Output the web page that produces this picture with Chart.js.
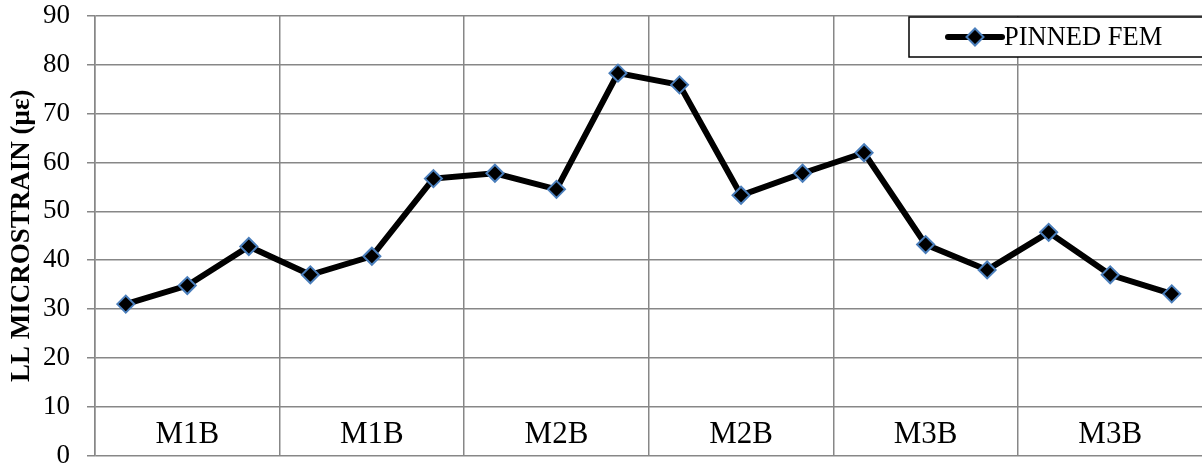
<!DOCTYPE html>
<html>
<head>
<meta charset="utf-8">
<script src="https://cdn.jsdelivr.net/npm/chart.js@4"></script>
<style>
    body { margin: 0; overflow: hidden; background: #fff; }
    #wrap { width: 1213px; height: 466px; position: relative; }
</style>
</head>
<body>
<div id="wrap"><canvas id="graficoStrain"></canvas></div>
<script>
const categorias = ['', 'M1B', '', '', 'M1B', '', '', 'M2B', '', '', 'M2B', '', '', 'M3B', '', '', 'M3B', ''];
const pinnedFem = [31.0, 34.8, 42.8, 37.0, 40.8, 56.7, 57.8, 54.5, 78.3, 75.9, 53.3, 57.8, 62.0, 43.2, 38.0, 45.7, 37.0, 33.1];
const yTicks = [0, 10, 20, 30, 40, 50, 60, 70, 80, 90];

const corGrade = '#878787';
const fonte = "'Liberation Serif', 'Times New Roman', serif";

// legend box drawn over the top right of the plot, like the original
const legendaPlugin = {
    id: 'legendaCaixa',
    afterDraw(chart) {
        const ctx = chart.ctx;
        const ds = chart.data.datasets[0];
        ctx.save();
        ctx.fillStyle = '#fff';
        ctx.fillRect(909, 17, 310, 40);
        ctx.strokeStyle = '#000';
        ctx.lineWidth = 1.5;
        ctx.strokeRect(909, 17, 310, 40);

        ctx.strokeStyle = ds.borderColor;
        ctx.lineWidth = ds.borderWidth;
        ctx.lineCap = 'round';
        ctx.beginPath();
        ctx.moveTo(948, 37);
        ctx.lineTo(1002, 37);
        ctx.stroke();

        ctx.fillStyle = ds.pointBackgroundColor;
        ctx.strokeStyle = ds.pointBorderColor;
        ctx.lineWidth = ds.pointBorderWidth;
        ctx.beginPath();
        ctx.moveTo(975, 28.5); ctx.lineTo(983.5, 37); ctx.lineTo(975, 45.5); ctx.lineTo(966.5, 37); ctx.closePath();
        ctx.fill();
        ctx.stroke();

        ctx.fillStyle = '#000';
        ctx.font = '26.5px ' + fonte;
        ctx.textBaseline = 'middle';
        ctx.textAlign = 'left';
        ctx.fillText(ds.label, 1004, 38);
        ctx.restore();
    }
};

function desenharGrafico() {
    const ctx = document.getElementById('graficoStrain').getContext('2d');

    new Chart(ctx, {
        type: 'line',
        data: {
            labels: categorias,
            datasets: [{
                label: 'PINNED FEM',
                data: pinnedFem,
                borderColor: '#000',
                borderWidth: 6,
                tension: 0,
                pointStyle: 'rectRot',
                pointRadius: 8.5,
                pointBackgroundColor: '#000',
                pointBorderColor: '#4a7ebb',
                pointBorderWidth: 2
            }]
        },
        options: {
            responsive: true,
            maintainAspectRatio: false,
            animation: false,
            layout: { padding: { top: 16, right: 0, bottom: 9, left: 0 } },
            plugins: {
                legend: { display: false },
                tooltip: { enabled: false }
            },
            scales: {
                x: {
                    type: 'category',
                    offset: true,
                    border: { display: false },
                    grid: {
                        offset: true,
                        drawTicks: false,
                        lineWidth: 1.5,
                        color: c => (c.index !== undefined && c.index % 3 === 0) ? corGrade : 'rgba(0,0,0,0)'
                    },
                    ticks: {
                        mirror: true,
                        autoSkip: false,
                        maxRotation: 0,
                        padding: 2,
                        color: '#000',
                        font: { family: fonte, size: 31 }
                    },
                    afterFit: s => {
                        s.height = 0;
                        s.paddingLeft = 0;
                        s.paddingRight = 0;
                    }
                },
                y: {
                    min: 0,
                    max: 90,
                    afterBuildTicks: s => { s.ticks = yTicks.map(v => ({ value: v })); },
                    afterFit: s => {
                        s.width = 95;
                        s.paddingTop = 0;
                        s.paddingBottom = 0;
                    },
                    border: { display: true, color: corGrade, width: 1.5 },
                    grid: { color: corGrade, lineWidth: 1.5, tickLength: 8 },
                    ticks: {
                        color: '#000',
                        padding: 17,
                        font: { family: fonte, size: 27 }
                    },
                    title: {
                        display: true,
                        text: 'LL MICROSTRAIN (με)',
                        color: '#000',
                        padding: { top: 6, bottom: 0 },
                        font: { family: fonte, size: 27, weight: 'bold' }
                    }
                }
            }
        },
        plugins: [legendaPlugin]
    });
}

desenharGrafico();
</script>
</body>
</html>
